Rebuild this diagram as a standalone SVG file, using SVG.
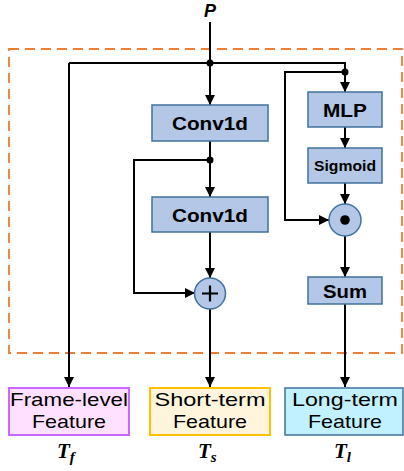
<svg xmlns="http://www.w3.org/2000/svg" width="404" height="471" viewBox="0 0 404 471">
  <style>
    .blk { fill: #B4C7E7; stroke: #41719C; stroke-width: 1.5; }
    .lbl { font-family: "Liberation Sans", Arial, sans-serif; font-weight: bold; fill: #000; text-anchor: middle; }
    .out { font-family: "Liberation Sans", Arial, sans-serif; font-size: 19px; fill: #000; text-anchor: middle; }
    .sym { font-family: "Liberation Serif", "Times New Roman", serif; font-weight: bold; font-style: italic; fill: #000; }
    .wire { fill: none; stroke: #000; stroke-width: 2; }
    .arr { marker-end: url(#head); }
  </style>
  <defs>
    <marker id="head" viewBox="0 0 10 10" refX="10" refY="5" markerWidth="10" markerHeight="10" markerUnits="userSpaceOnUse" orient="auto">
      <path d="M0,0 L10,5 L0,10 Z" fill="#000"/>
    </marker>
  </defs>

  <rect width="404" height="471" fill="#fff"/>

  <!-- module boundary -->
  <rect id="module" x="9" y="49" width="393" height="304" fill="none" stroke="#ED7D31" stroke-width="1.8" stroke-dasharray="10 6"/>

  <!-- input -->
  <g id="input">
    <text x="210" y="17" font-family="'Liberation Sans', Arial, sans-serif" font-weight="bold" font-style="italic" font-size="18" text-anchor="middle">P</text>
  </g>

  <!-- connectors -->
  <g id="connectors">
    <path class="wire" d="M210,22 V63"/>
    <path class="wire" d="M69,63 H345 V72"/>
    <path class="wire arr" d="M69,63 V387"/>
    <path class="wire arr" d="M210,63 V105"/>
    <path class="wire arr" d="M345,72 V92"/>
    <path class="wire arr" d="M345,72 H285 V220 H329"/>
    <path class="wire" d="M210,141 V160"/>
    <path class="wire arr" d="M210,160 V197"/>
    <path class="wire arr" d="M210,160 H134 V293 H195"/>
    <path class="wire arr" d="M210,232 V278"/>
    <path class="wire arr" d="M210,309 V387"/>
    <path class="wire arr" d="M345,127 V148"/>
    <path class="wire arr" d="M345,183 V204"/>
    <path class="wire arr" d="M345,236 V277"/>
    <path class="wire arr" d="M345,304 V387"/>
    <circle cx="210" cy="63" r="3.5" fill="#000"/>
    <circle cx="345" cy="72" r="3.5" fill="#000"/>
    <circle cx="210" cy="160" r="3.5" fill="#000"/>
  </g>

  <!-- short-term branch -->
  <g id="conv1">
    <rect class="blk" x="152" y="105" width="116" height="36"/>
    <text class="lbl" x="210" y="130" font-size="19" textLength="76" lengthAdjust="spacingAndGlyphs">Conv1d</text>
  </g>
  <g id="conv2">
    <rect class="blk" x="152" y="197" width="116" height="35"/>
    <text class="lbl" x="210" y="222" font-size="19" textLength="76" lengthAdjust="spacingAndGlyphs">Conv1d</text>
  </g>
  <g id="add">
    <circle class="blk" cx="210" cy="293.5" r="15.5"/>
    <path d="M202,293.5 H218 M210,285.5 V301.5" stroke="#000" stroke-width="2.2"/>
  </g>

  <!-- long-term branch -->
  <g id="mlp">
    <rect class="blk" x="308" y="92" width="74" height="35"/>
    <text class="lbl" x="345" y="117" font-size="19" textLength="44" lengthAdjust="spacingAndGlyphs">MLP</text>
  </g>
  <g id="sigmoid">
    <rect class="blk" x="308" y="148" width="74" height="35"/>
    <text class="lbl" x="345" y="171" font-size="15" textLength="62" lengthAdjust="spacingAndGlyphs">Sigmoid</text>
  </g>
  <g id="mul">
    <circle class="blk" cx="345" cy="220" r="16"/>
    <circle cx="345" cy="220" r="4.8" fill="#000"/>
  </g>
  <g id="sum">
    <rect class="blk" x="308" y="277" width="74" height="27"/>
    <text class="lbl" x="345" y="298" font-size="19" textLength="44" lengthAdjust="spacingAndGlyphs">Sum</text>
  </g>

  <!-- outputs -->
  <g id="frame-out">
    <rect x="9" y="388" width="120" height="47" fill="#FFE1FF" stroke="#CC66FF" stroke-width="2"/>
    <text class="out" x="69" y="406" textLength="118" lengthAdjust="spacingAndGlyphs">Frame-level</text>
    <text class="out" x="69" y="428" textLength="74" lengthAdjust="spacingAndGlyphs">Feature</text>
    <text class="sym" x="57" y="458" font-size="21">T<tspan font-size="15" dy="4">f</tspan></text>
  </g>
  <g id="short-out">
    <rect x="150" y="388" width="120" height="47" fill="#FFF5DC" stroke="#FFC000" stroke-width="2"/>
    <text class="out" x="210" y="406" textLength="111" lengthAdjust="spacingAndGlyphs">Short-term</text>
    <text class="out" x="210" y="428" textLength="74" lengthAdjust="spacingAndGlyphs">Feature</text>
    <text class="sym" x="198" y="458" font-size="21">T<tspan font-size="15" dy="4">s</tspan></text>
  </g>
  <g id="long-out">
    <rect x="285" y="388" width="118" height="47" fill="#C1F1FF" stroke="#41719C" stroke-width="1.5"/>
    <text class="out" x="345" y="406" textLength="106" lengthAdjust="spacingAndGlyphs">Long-term</text>
    <text class="out" x="345" y="428" textLength="74" lengthAdjust="spacingAndGlyphs">Feature</text>
    <text class="sym" x="334" y="458" font-size="21">T<tspan font-size="15" dy="4">l</tspan></text>
  </g>
</svg>
